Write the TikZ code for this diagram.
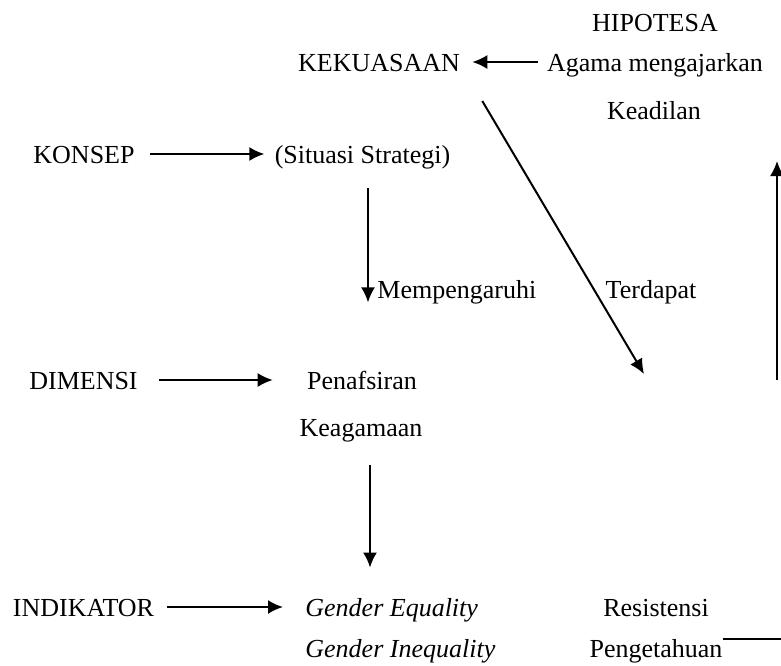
\documentclass[tikz,border=0pt]{standalone}
\usepackage{fontspec}
\setmainfont{Liberation Serif}
\usetikzlibrary{arrows.meta}
\usetikzlibrary{positioning}

\tikzset{
	teks/.style={inner sep=0pt, anchor=base, font=\fontsize{13}{15}\selectfont},
	panah/.style={-{Latex[length=7.5pt,width=7pt]}, line width=1pt},
	garis/.style={line width=1pt}
}

\begin{document}
\begin{tikzpicture}[x=0.5pt, y=-0.5pt]
				\useasboundingbox (0,0) rectangle (781,665);
				% baris atas
				\node[teks] (hipotesa) at (655,31) {HIPOTESA};
				\node[teks] (kekuasaan) at (379,71) {KEKUASAAN};
				\node[teks] (agama) at (655,71) {Agama mengajarkan};
				\node[teks] (keadilan) at (654,119) {Keadilan};
				\node[teks] (konsep) at (84,163) {KONSEP};
				\node[teks] (situasi) at (362.5,163) {(Situasi Strategi)};
				\node[teks, anchor=base west] (mempengaruhi) at (377,298) {Mempengaruhi};
				\node[teks] (terdapat) at (651,298) {Terdapat};
				% baris tengah
				\node[teks] (dimensi) at (83.5,389) {DIMENSI};
				\node[teks] (penafsiran) at (362,389) {Penafsiran};
				\node[teks] (keagamaan) at (361,436) {Keagamaan};
				% baris bawah
				\node[teks] (indikator) at (83.5,616) {INDIKATOR};
				\node[teks, anchor=base west] (gequal) at (305,616) {\itshape Gender Equality};
				\node[teks, anchor=base west] (ginequal) at (305,657) {\itshape Gender Inequality};
				\node[teks] (resistensi) at (656,616) {Resistensi};
				\node[teks] (pengetahuan) at (656,657) {Pengetahuan};
				\coordinate (ujung) at (644,374);
				\coordinate (kananbawah) at (777,380);
				\coordinate (kananatas) at (777,161);
				\coordinate (tepi) at (781,639);

				\draw[panah, shorten <=4.5pt, shorten >=6pt] ([yshift=4.5pt]agama.base west) -- ([yshift=4.5pt]kekuasaan.base east);
				\draw[panah, shorten <=7.5pt, shorten >=5pt] ([yshift=4.5pt]konsep.base east) -- ([yshift=4.5pt]situasi.base west);
				\draw[panah, shorten <=9.7pt, shorten >=0.8pt] ([xshift=2.75pt]situasi.south) -- ([xshift=2.75pt]situasi.south |- mempengaruhi.south);
				\draw[panah] ([xshift=11pt,yshift=-15pt]kekuasaan.base east) -- (ujung);
				\draw[panah, shorten <=10.5pt, shorten >=17pt] ([yshift=4.5pt]dimensi.base east) -- ([yshift=4.5pt]penafsiran.base west);
				\draw[panah, shorten <=11.7pt, shorten >=15pt] ([xshift=4.5pt]keagamaan.south) -- ([xshift=4.5pt]keagamaan.south |- gequal.north);
				\draw[panah, shorten <=6.5pt, shorten >=11pt] ([yshift=4.5pt]indikator.base east) -- ([yshift=4.5pt]gequal.base west);
				\draw[garis] ([yshift=9pt]pengetahuan.base east) -- (tepi);
				\draw[panah] (kananbawah) -- (kananatas);
			\end{tikzpicture}
\end{document}
